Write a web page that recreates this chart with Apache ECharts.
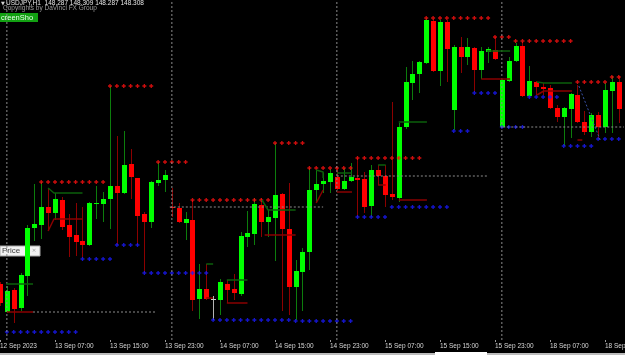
<!DOCTYPE html>
<html>
<head>
<meta charset="utf-8">
<script src="https://cdn.jsdelivr.net/npm/echarts@6/dist/echarts.min.js"></script>
<style>
  html, body { margin: 0; padding: 0; background: #000; }
  #chart { width: 625px; height: 355px; }
</style>
</head>
<body>
<div id="chart"></div>
<script>
// USDJPY H1 candles, 12 Sep 23:00 .. 18 Sep
var tickLabels = ['12 Sep 2023', '13 Sep 07:00', '13 Sep 15:00', '13 Sep 23:00', '14 Sep 07:00', '14 Sep 15:00',
    '14 Sep 23:00', '15 Sep 07:00', '15 Sep 15:00', '15 Sep 23:00', '18 Sep 07:00', '18 Sep 15:00'];

var opens = [147.148, 147.064, 147.130, 147.076, 147.172, 147.316, 147.325, 147.379, 147.361, 147.400,
    147.325, 147.295, 147.277, 147.265, 147.388, 147.388, 147.403, 147.442, 147.421, 147.508,
    147.466, 147.358, 147.334, 147.451, 147.460, 147.379, 147.376, 147.331, 147.340, 147.103,
    147.133, 147.103, 147.100, 147.148, 147.133, 147.118, 147.289, 147.298, 147.385, 147.334,
    147.346, 147.418, 147.313, 147.139, 147.184, 147.244, 147.430, 147.448, 147.454, 147.469,
    147.433, 147.457, 147.466, 147.463, 147.382, 147.490, 147.472, 147.418, 147.406, 147.619,
    147.751, 147.778, 147.811, 147.937, 147.787, 147.934, 147.670, 147.859, 147.829, 147.856,
    147.790, 147.844, 147.850, 147.619, 147.757, 147.817, 147.862, 147.712, 147.754, 147.739,
    147.736, 147.676, 147.649, 147.673, 147.715, 147.634, 147.604, 147.655, 147.619, 147.727,
    147.754];
var closes = [147.091, 147.127, 147.073, 147.175, 147.316, 147.328, 147.379, 147.361, 147.403, 147.319,
    147.289, 147.274, 147.265, 147.391, 147.391, 147.403, 147.442, 147.421, 147.505, 147.469,
    147.352, 147.334, 147.454, 147.460, 147.475, 147.376, 147.334, 147.343, 147.100, 147.133,
    147.103, 147.103, 147.154, 147.130, 147.121, 147.292, 147.301, 147.388, 147.334, 147.349,
    147.415, 147.313, 147.139, 147.187, 147.244, 147.430, 147.448, 147.457, 147.481, 147.433,
    147.457, 147.469, 147.460, 147.379, 147.490, 147.472, 147.415, 147.409, 147.619, 147.754,
    147.778, 147.814, 147.940, 147.787, 147.934, 147.853, 147.859, 147.829, 147.859, 147.790,
    147.847, 147.853, 147.823, 147.760, 147.817, 147.862, 147.712, 147.757, 147.739, 147.733,
    147.676, 147.649, 147.676, 147.718, 147.634, 147.604, 147.655, 147.619, 147.730, 147.754,
    147.673];
var highs = [147.154, 147.142, 147.136, 147.181, 147.325, 147.448, 147.454, 147.436, 147.421, 147.409,
    147.358, 147.391, 147.379, 147.394, 147.442, 147.424, 147.742, 147.592, 147.607, 147.553,
    147.466, 147.364, 147.457, 147.514, 147.490, 147.436, 147.391, 147.364, 147.400, 147.208,
    147.208, 147.112, 147.163, 147.160, 147.178, 147.304, 147.367, 147.406, 147.406, 147.370,
    147.571, 147.421, 147.451, 147.220, 147.256, 147.496, 147.490, 147.481, 147.493, 147.496,
    147.496, 147.511, 147.526, 147.484, 147.505, 147.505, 147.505, 147.694, 147.631, 147.799,
    147.817, 147.817, 147.946, 147.943, 147.940, 147.940, 147.865, 147.889, 147.886, 147.859,
    147.859, 147.859, 147.889, 147.763, 147.829, 147.871, 147.874, 147.802, 147.757, 147.751,
    147.745, 147.685, 147.679, 147.721, 147.745, 147.667, 147.661, 147.664, 147.751, 147.772,
    147.772];
var lows = [147.082, 147.061, 147.031, 147.067, 147.112, 147.277, 147.283, 147.307, 147.340, 147.310,
    147.229, 147.232, 147.226, 147.262, 147.343, 147.334, 147.313, 147.265, 147.418, 147.403,
    147.265, 147.181, 147.316, 147.442, 147.424, 147.349, 147.331, 147.280, 147.067, 147.043,
    147.100, 147.040, 147.055, 147.091, 147.100, 147.112, 147.259, 147.265, 147.289, 147.289,
    147.217, 147.067, 147.055, 147.040, 147.067, 147.190, 147.391, 147.421, 147.421, 147.430,
    147.430, 147.454, 147.349, 147.361, 147.349, 147.445, 147.379, 147.400, 147.394, 147.613,
    147.700, 147.721, 147.808, 147.784, 147.742, 147.754, 147.610, 147.781, 147.805, 147.724,
    147.763, 147.811, 147.820, 147.616, 147.754, 147.814, 147.709, 147.709, 147.715, 147.715,
    147.673, 147.634, 147.562, 147.586, 147.631, 147.595, 147.589, 147.583, 147.601, 147.601,
    147.631];

// dotted resistance / support levels: [fromBar, toBar, price]
var resistLevels = [[6, 15, 147.454], [16, 22, 147.742], [23, 27, 147.514], [28, 39, 147.400], [40, 44, 147.571],
    [45, 51, 147.496], [52, 61, 147.526], [62, 71, 147.946], [72, 74, 147.889], [75, 83, 147.877],
    [84, 88, 147.754], [89, 90, 147.769]];
var supportLevels = [[1, 11, 147.004], [12, 16, 147.223], [17, 20, 147.265], [21, 30, 147.181], [31, 42, 147.040],
    [43, 51, 147.037], [52, 56, 147.349], [57, 65, 147.379], [66, 68, 147.607], [69, 72, 147.721],
    [73, 76, 147.619], [77, 81, 147.709], [82, 86, 147.562], [87, 90, 147.583]];

// daily open lines (gray dotted): [x0, x1, price]
var dayOpenLines = [[4.8, 22.8, 147.064], [24.7, 47, 147.379], [49, 71, 147.472], [73.2, 91, 147.619]];
var daySeparators = [1, 25, 49, 73];

// indicator polylines: [[x, price], ...]
var greenLines = [
    [[0.9, 147.148], [4.8, 147.148]],
    [[7, 147.436], [7.85, 147.421], [12, 147.421]],
    [[30, 147.208], [31, 147.208]],
    [[33, 147.160], [36, 147.160]],
    [[38.1, 147.400], [39, 147.370], [43, 147.370]],
    [[46, 147.490], [47, 147.484], [47, 147.466]],
    [[49, 147.481], [51.2, 147.481]],
    [[55, 147.505], [56.1, 147.505]],
    [[58, 147.634], [62.1, 147.634]],
    [[70.8, 147.847], [74.2, 147.847]],
    [[78.1, 147.754], [79.1, 147.751], [83.2, 147.751]]
];
var redLines = [
    [[1, 147.064], [4.8, 147.064]],
    [[7, 147.307], [7.85, 147.343], [12, 147.343]],
    [[30, 147.106], [31, 147.106]],
    [[33, 147.091], [36, 147.091]],
    [[38.5, 147.295], [43, 147.295]],
    [[46, 147.391], [47, 147.430]],
    [[49, 147.424], [51.2, 147.424]],
    [[55, 147.445], [56.1, 147.445]],
    [[58, 147.400], [62.1, 147.400]],
    [[70, 147.763], [74.2, 147.763]],
    [[78.1, 147.715], [79.1, 147.727], [83.2, 147.727]],
    [[84, 147.580], [84.7, 147.580]]
];
var trendLine = [[84.2, 147.742], [87.3, 147.580]];

var categories = opens.map(function (v, i) {
    return i % 8 === 0 ? tickLabels[i / 8] : '';
});
var candleData = opens.map(function (o, i) {
    return [i, o, closes[i], lows[i], highs[i]];
});

function levelPoints(levels) {
    var pts = [];
    levels.forEach(function (lv) {
        for (var i = lv[0]; i <= lv[1]; i++) pts.push([i, lv[2]]);
    });
    return pts;
}

function renderCandle(params, api) {
    var i = api.value(0), o = api.value(1), c = api.value(2);
    var pO = api.coord([i, o]), pC = api.coord([i, c]);
    var pL = api.coord([i, api.value(3)]), pH = api.coord([i, api.value(4)]);
    var flat = c === o, up = c > o;
    var wick = flat ? '#b4b4b4' : (up ? '#0c7d0c' : '#8c0000');
    var body = flat ? '#c8c8c8' : (up ? '#00ff00' : '#ff0000');
    var x = Math.round(pO[0]);
    var top = Math.round(Math.min(pO[1], pC[1]));
    var h = Math.max(Math.round(Math.abs(pO[1] - pC[1])), 1);
    return {
        type: 'group',
        children: [
            { type: 'line', shape: { x1: x + 0.5, y1: pH[1], x2: x + 0.5, y2: pL[1] }, style: { stroke: wick, lineWidth: 1 } },
            { type: 'rect', shape: { x: x - 2, y: top, width: 5, height: h }, style: { fill: body } }
        ]
    };
}

var yMin = 146.98, yMax = 148.0;
var series = [];

daySeparators.forEach(function (x) {
    series.push({
        type: 'line', xAxisIndex: 1, symbol: 'none', silent: true,
        data: [[x, yMin], [x, yMax]],
        lineStyle: { color: '#8c8c8c', width: 1, type: [2, 2] }
    });
});
dayOpenLines.forEach(function (s) {
    series.push({
        type: 'line', xAxisIndex: 1, symbol: 'none', silent: true,
        data: [[s[0], s[2]], [s[1], s[2]]],
        lineStyle: { color: '#8c8c8c', width: 1, type: [2, 2] }
    });
});
greenLines.forEach(function (pl) {
    series.push({
        type: 'line', xAxisIndex: 1, symbol: 'none', silent: true, data: pl,
        lineStyle: { color: '#0b5f0b', width: 1.5 }
    });
});
redLines.forEach(function (pl) {
    series.push({
        type: 'line', xAxisIndex: 1, symbol: 'none', silent: true, data: pl,
        lineStyle: { color: '#8a0000', width: 1.5 }
    });
});
series.push({
    type: 'line', xAxisIndex: 1, symbol: 'none', silent: true, data: trendLine,
    lineStyle: { color: '#3a52a8', width: 1, type: [2, 2] }
});

series.push({
    type: 'custom',
    renderItem: renderCandle,
    encode: { x: 0, y: [1, 2, 3, 4] },
    data: candleData,
    silent: true
});

var plus = 'path://M1,0H2V1H3V2H2V3H1V2H0V1H1Z';
series.push({
    type: 'scatter', symbol: plus, symbolSize: 4, silent: true,
    itemStyle: { color: '#ff1010' },
    data: levelPoints(resistLevels)
});
series.push({
    type: 'scatter', symbol: plus, symbolSize: 4, silent: true,
    itemStyle: { color: '#1a1aff' },
    data: levelPoints(supportLevels)
});

var chart = echarts.init(document.getElementById('chart'));
chart.setOption({
    animation: false,
    backgroundColor: '#000000',
    grid: { left: -3.44, width: 625.6, top: 0, height: 340, containLabel: false, outerBoundsMode: 'none' },
    xAxis: [{
        type: 'category',
        data: categories,
        boundaryGap: true,
        axisLine: { show: false },
        axisTick: {
            show: true, length: 2, alignWithLabel: true,
            interval: function (i) { return i % 8 === 0; },
            lineStyle: { color: '#9a9a9a' }
        },
        axisLabel: {
            interval: 0, align: 'left', margin: 3,
            color: '#d6d6d6', fontSize: 6.5, fontFamily: 'Liberation Sans'
        },
        splitLine: { show: false }
    }, {
        type: 'value', min: -0.5, max: 90.5, show: false
    }],
    yAxis: { type: 'value', min: yMin, max: yMax, show: false, scale: true },
    graphic: [
        { type: 'text', left: 1, top: 1, style: { text: '\u25BC', fill: '#d0d0d0', font: '5px "DejaVu Sans"' } },
        { type: 'text', left: 6, top: 0, style: { text: 'USDJPY,H1  148.287 148.309 148.287 148.308', fill: '#e6e6e6', font: '6.5px "Liberation Sans"' } },
        { type: 'text', left: 3, top: 5, style: { text: 'Copyrights by DaVinci FX Group', fill: '#9c9c9c', font: '6.5px "Liberation Sans"' } },
        { type: 'rect', shape: { x: 0, y: 13, width: 38, height: 9 }, style: { fill: '#12a012' } },
        { type: 'text', left: 1, top: 13.5, style: { text: 'creenSho', fill: '#eaffea', font: '7.5px "Liberation Sans"' } },
        { type: 'rect', shape: { x: 0, y: 246, width: 40, height: 10 }, style: { fill: '#f2f2f2', stroke: '#a8a8a8', lineWidth: 1 } },
        { type: 'text', left: 2, top: 247, style: { text: 'Price', fill: '#404040', font: '8px "Liberation Sans"' } },
        { type: 'text', left: 26, top: 248, style: { text: '\u29C9 \u00D7', fill: '#909090', font: '5.5px "DejaVu Sans"' } },
        { type: 'rect', shape: { x: 0, y: 353, width: 625, height: 2 }, style: { fill: '#bcbcbc' } },
        { type: 'rect', shape: { x: 435, y: 352, width: 52, height: 3 }, style: { fill: '#ffffff' } }
    ],
    series: series
});
</script>
</body>
</html>
